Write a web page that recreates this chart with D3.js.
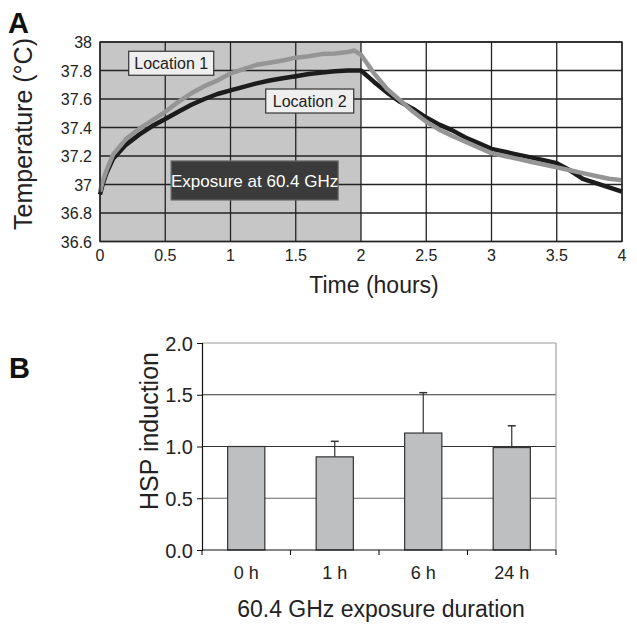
<!DOCTYPE html>
<html><head><meta charset="utf-8">
<script src="https://cdn.jsdelivr.net/npm/d3@7/dist/d3.min.js"></script>
<style>
body{margin:0;background:#fff;}
svg{display:block;font-family:"Liberation Sans",Arial,sans-serif;}
</style></head>
<body>
<svg id="c" width="637" height="624"></svg>
<script>
// ---------- Panel A data ----------
const timeHours = [0,0.02,0.05,0.1,0.2,0.3,0.4,0.5,0.6,0.7,0.8,0.9,1.0,1.1,1.2,1.3,1.4,1.5,1.6,1.7,1.8,1.9,1.95,2.0,2.1,2.2,2.3,2.4,2.5,2.6,2.7,2.8,2.9,3.0,3.1,3.2,3.3,3.4,3.5,3.6,3.7,3.8,3.9,4.0];
const location1 = [36.95,37.02,37.10,37.21,37.32,37.39,37.45,37.51,37.58,37.64,37.69,37.73,37.78,37.81,37.84,37.855,37.87,37.89,37.90,37.915,37.92,37.93,37.94,37.91,37.78,37.67,37.59,37.51,37.44,37.385,37.34,37.30,37.26,37.22,37.20,37.18,37.16,37.14,37.12,37.10,37.08,37.06,37.04,37.03];
const location2 = [36.93,37.00,37.08,37.18,37.28,37.35,37.41,37.46,37.51,37.56,37.60,37.635,37.66,37.685,37.71,37.73,37.745,37.76,37.775,37.785,37.795,37.80,37.80,37.80,37.72,37.645,37.58,37.53,37.47,37.42,37.38,37.33,37.29,37.25,37.23,37.21,37.19,37.17,37.15,37.10,37.04,37.01,36.98,36.95];
const xTicksA = [0,0.5,1,1.5,2,2.5,3,3.5,4];
const yTicksA = [36.6,36.8,37,37.2,37.4,37.6,37.8,38];
const exposureWindow = [0,2];

// ---------- Panel B data ----------
const categories = ["0 h","1 h","6 h","24 h"];
const hspValues = [1.0,0.90,1.13,0.99];
const hspErrors = [0,0.15,0.39,0.21];
const yTicksB = [0,0.5,1.0,1.5,2.0];

const svg = d3.select("#c");

// ================= Panel A =================
const xA = d3.scaleLinear().domain([0,4]).range([100,622]);
const yA = d3.scaleLinear().domain([36.6,38]).range([241.5,42]);
const gA = svg.append("g");

gA.append("rect").attr("x",xA(0)).attr("y",yA(38)).attr("width",xA(4)-xA(0)).attr("height",yA(36.6)-yA(38)).attr("fill","#fff");
gA.append("rect").attr("x",xA(exposureWindow[0])).attr("y",yA(38))
  .attr("width",xA(exposureWindow[1])-xA(exposureWindow[0])).attr("height",yA(36.6)-yA(38)).attr("fill","#c6c6c6");

// grid
gA.selectAll(".gx").data(xTicksA).join("line")
  .attr("x1",d=>xA(d)).attr("x2",d=>xA(d)).attr("y1",yA(38)).attr("y2",yA(36.6))
  .attr("stroke","#222").attr("stroke-width",1.3);
gA.selectAll(".gy").data(yTicksA).join("line")
  .attr("x1",xA(0)).attr("x2",xA(4)).attr("y1",d=>yA(d)).attr("y2",d=>yA(d))
  .attr("stroke","#222").attr("stroke-width",1.3);

const data1 = timeHours.map((t,i)=>[t,location1[i]]);
const data2 = timeHours.map((t,i)=>[t,location2[i]]);
const line = d3.line().x(d=>xA(d[0])).y(d=>yA(d[1]));
gA.append("path").datum(data2).attr("d",line).attr("fill","none").attr("stroke","#1c1c1c").attr("stroke-width",4.5).attr("stroke-linejoin","round");
gA.append("path").datum(data1).attr("d",line).attr("fill","none").attr("stroke","#959595").attr("stroke-width",4.5).attr("stroke-linejoin","round");

// axis labels
gA.selectAll(".tx").data(xTicksA).join("text")
  .attr("x",d=>xA(d)).attr("y",261).attr("text-anchor","middle")
  .attr("font-size",16).attr("fill","#222").text(d=>d);
gA.selectAll(".ty").data(yTicksA).join("text")
  .attr("x",92).attr("y",d=>yA(d)+6).attr("text-anchor","end")
  .attr("font-size",16).attr("fill","#222").text(d=>d);

gA.append("text").attr("x",374).attr("y",293).attr("text-anchor","middle")
  .attr("font-size",23).attr("fill","#222").text("Time (hours)");
gA.append("text").attr("transform",`translate(32,134) rotate(-90)`)
  .attr("text-anchor","middle").attr("font-size",25).attr("fill","#222").text("Temperature (°C)");
svg.append("text").attr("x",8).attr("y",33).attr("font-size",29).attr("font-weight","bold").attr("fill","#111").text("A");

// annotation boxes
function box(t,T,w,h,label,fill,stroke,color,fs){
  const g = gA.append("g");
  g.append("rect").attr("x",xA(t)).attr("y",yA(T)).attr("width",w).attr("height",h)
    .attr("fill",fill).attr("stroke",stroke).attr("stroke-width",1.2);
  g.append("text").attr("x",xA(t)+w/2).attr("y",yA(T)+h/2+fs*0.36).attr("text-anchor","middle")
    .attr("font-size",fs).attr("fill",color).text(label);
}
box(0.22,37.935,85,24,"Location 1","#efefef","#333","#222",16);
box(1.27,37.67,88,24,"Location 2","#efefef","#333","#222",16);
box(0.545,37.165,167,39,"Exposure at 60.4 GHz","#3b3b3b","#666","#fff",17);

// outer border
gA.append("rect").attr("x",xA(0)).attr("y",yA(38)).attr("width",xA(4)-xA(0)).attr("height",yA(36.6)-yA(38))
  .attr("fill","none").attr("stroke","#222").attr("stroke-width",1.3);

// ================= Panel B =================
const xB = d3.scaleBand().domain(categories).range([202,556]).padding(0);
const yB = d3.scaleLinear().domain([0,2]).range([550,343]);
const gB = svg.append("g");

// grid
gB.selectAll(".gyb").data(yTicksB.filter(d=>d>0 && d<2)).join("line")
  .attr("x1",xB.range()[0]).attr("x2",xB.range()[1]).attr("y1",d=>yB(d)).attr("y2",d=>yB(d))
  .attr("stroke",d=>d===0.5?"#666":"#333").attr("stroke-width",1.1);
gB.append("line").attr("x1",202).attr("x2",556).attr("y1",yB(2)).attr("y2",yB(2)).attr("stroke","#9a9a9a").attr("stroke-width",1.1);
gB.append("line").attr("x1",556).attr("x2",556).attr("y1",yB(2)).attr("y2",yB(0)).attr("stroke","#9a9a9a").attr("stroke-width",1.1);

// bars
const bw = xB.bandwidth()*0.42;
const cx = c=>xB(c)+xB.bandwidth()/2;
categories.forEach((c,i)=>{
  if(hspErrors[i]>0){
    gB.append("line").attr("x1",cx(c)).attr("x2",cx(c)).attr("y1",yB(hspValues[i])).attr("y2",yB(hspValues[i]+hspErrors[i])).attr("stroke","#333").attr("stroke-width",1.2);
    gB.append("line").attr("x1",cx(c)-4).attr("x2",cx(c)+4).attr("y1",yB(hspValues[i]+hspErrors[i])).attr("y2",yB(hspValues[i]+hspErrors[i])).attr("stroke","#333").attr("stroke-width",1.5);
  }
});
gB.selectAll(".bar").data(categories).join("rect")
  .attr("x",c=>cx(c)-bw/2).attr("width",bw)
  .attr("y",(c,i)=>yB(hspValues[i])).attr("height",(c,i)=>yB(0)-yB(hspValues[i]))
  .attr("fill","#bebfc1").attr("stroke","#333").attr("stroke-width",1.2);

// axes
const axL = gB.append("g").attr("transform","translate(202,0)").call(d3.axisLeft(yB).tickValues(yTicksB).tickFormat(d3.format(".1f")).tickSize(5).tickPadding(4));
axL.select(".domain").attr("stroke","#111").attr("stroke-width",1.2);
axL.selectAll(".tick line").attr("stroke","#111");
axL.selectAll("text").attr("font-size",20).attr("fill","#222").attr("font-family","Liberation Sans,Arial,sans-serif").attr("dy","0.36em");

const bounds = categories.map(c=>xB(c)).concat([xB.range()[1]]);
gB.append("line").attr("x1",202).attr("x2",556).attr("y1",yB(0)).attr("y2",yB(0)).attr("stroke","#111").attr("stroke-width",1.2);
gB.selectAll(".tb").data(bounds).join("line").attr("x1",d=>d).attr("x2",d=>d).attr("y1",yB(0)).attr("y2",yB(0)+5).attr("stroke","#111").attr("stroke-width",1.1);
gB.selectAll(".cl").data(categories).join("text").attr("x",c=>cx(c)).attr("y",579).attr("text-anchor","middle")
  .attr("font-size",18).attr("fill","#222").text(c=>c);

gB.append("text").attr("x",381).attr("y",617).attr("text-anchor","middle").attr("font-size",23).attr("fill","#222").text("60.4 GHz exposure duration");
gB.append("text").attr("transform",`translate(158,431) rotate(-90)`).attr("text-anchor","middle").attr("font-size",25).attr("fill","#222").text("HSP induction");
svg.append("text").attr("x",9).attr("y",378).attr("font-size",29).attr("font-weight","bold").attr("fill","#111").text("B");
</script>
</body></html>
